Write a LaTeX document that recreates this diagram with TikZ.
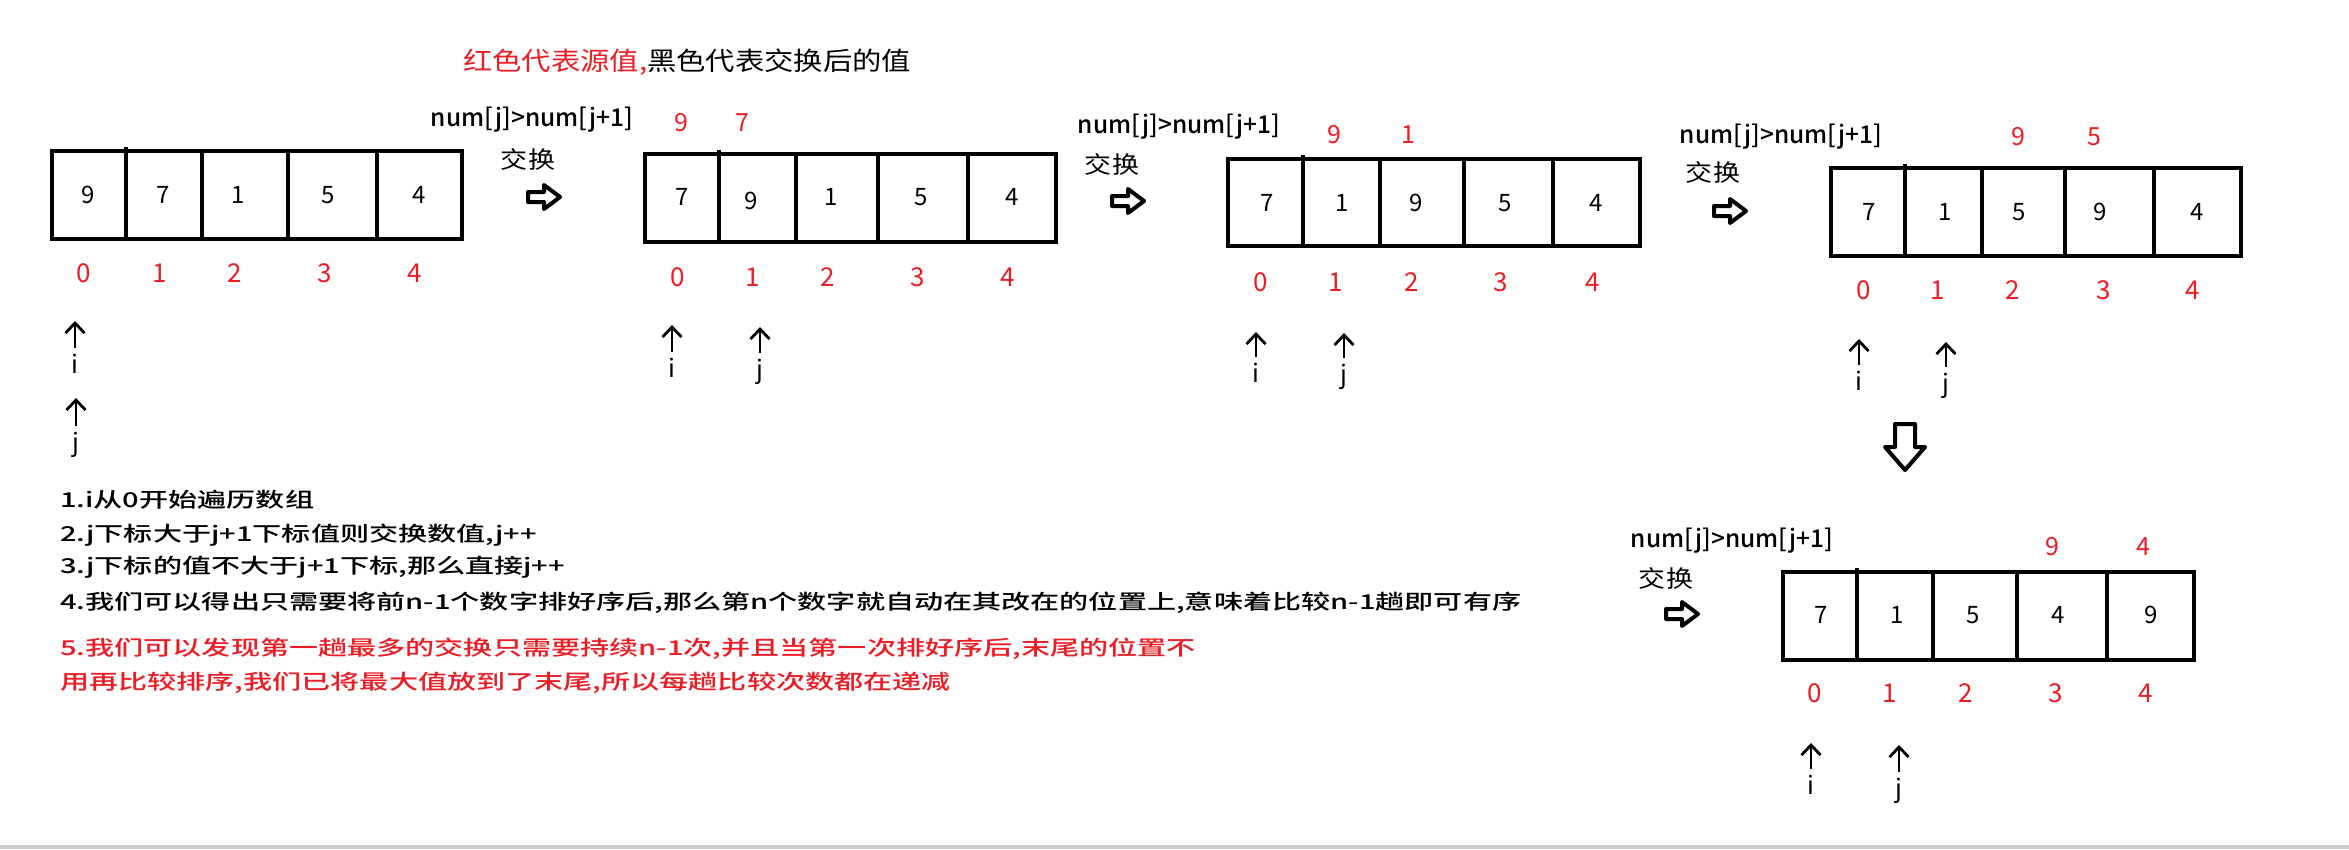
\documentclass[tikz,border=0pt]{standalone}
\usepackage{fontspec}
\usetikzlibrary{arrows.meta}
\newfontfamily\cjk[FakeStretch=1.42, UprightFont=* Medium]{Noto Sans CJK SC}
\newfontfamily\cjkm[UprightFont=* Medium]{Noto Sans CJK SC}
\newfontfamily\cjkt[FakeStretch=1.15]{Noto Sans CJK SC}
\newfontfamily\dgt{Noto Sans CJK SC}
\definecolor{srcred}{RGB}{236,28,36}

\begin{document}
\begin{tikzpicture}[x=1pt, y=-1pt,
  val/.style={inner sep=0pt, font=\dgt\fontsize{24}{24}\selectfont},
  idx/.style={inner sep=0pt, text=srcred, font=\dgt\fontsize{26}{26}\selectfont},
  src/.style={inner sep=0pt, text=srcred, font=\dgt\fontsize{25}{25}\selectfont}]
\tikzstyle{arr}=[draw, line width=4.5pt]
\tikzstyle{sep}=[draw, line width=4pt]
\tikzstyle{ptr}=[line width=2.8pt, -{Straight Barb[length=10pt,width=19pt]}, shorten <=6pt]
\tikzstyle{ptrlbl}=[inner sep=0pt, anchor=north, font=\dgt\fontsize{25}{25}\selectfont]
\tikzstyle{cond}=[inner sep=0pt, font=\cjkm\fontsize{24.5}{24.5}\selectfont]
\tikzstyle{swp}=[inner sep=0pt, font=\cjkt\fontsize{23.5}{23.5}\selectfont]
\tikzstyle{blk}=[line width=4pt, line join=round]
\tikzstyle{note}=[inner sep=0pt, anchor=west, font=\cjk\fontsize{20.5}{20.5}\selectfont]
\useasboundingbox (0,0) rectangle (2349,849);
\fill[black!20] (0,845) rectangle (2349,849);

\node[inner sep=0pt, anchor=west, font=\cjkt\fontsize{25.5}{25.5}\selectfont] (title) at (463,62)
  {{\color{srcred}红色代表源值,}黑色代表交换后的值};

% array 1
\draw[arr] (52,151) rectangle (462,239);
\draw[sep] (126,147) -- (126,239);
\foreach \x in {202,288,377}{\draw[sep] (\x,151) -- (\x,239);}
\foreach \x/\v [count=\n from 0] in {88/9,163/7,238/1,328/5,419/4}{\node[val] (a\n) at (\x,195) {\v};}
\foreach \x [count=\n from 0] in {84,160,235,325,415}{\node[idx] (ia\n) at (\x,273) {\n};}

% array 2
\draw[arr] (645,154) rectangle (1056,242);
\draw[sep] (719,150) -- (719,242);
\foreach \x in {796,878,968}{\draw[sep] (\x,154) -- (\x,242);}
\foreach \x/\y/\v [count=\n from 0] in {682/197/7,751/201/9,831/197/1,921/197/5,1012/197/4}{\node[val] (b\n) at (\x,\y) {\v};}
\foreach \x [count=\n from 0] in {678,753,828,918,1008}{\node[idx] (ib\n) at (\x,277) {\n};}
\node[src] (sb0) at (681,123) {9};
\node[src] (sb1) at (742,123) {7};

% array 3
\draw[arr] (1228,159) rectangle (1640,246);
\draw[sep] (1303,155) -- (1303,246);
\foreach \x in {1380,1464,1553}{\draw[sep] (\x,159) -- (\x,246);}
\foreach \x/\v [count=\n from 0] in {1267/7,1342/1,1416/9,1505/5,1596/4}{\node[val] (c\n) at (\x,203) {\v};}
\foreach \x [count=\n from 0] in {1261,1336,1412,1501,1593}{\node[idx] (ic\n) at (\x,282) {\n};}
\node[src] (sc0) at (1334,135) {9};
\node[src] (sc1) at (1408,135) {1};

% array 4
\draw[arr] (1831,168) rectangle (2241,256);
\draw[sep] (1905,164) -- (1905,256);
\foreach \x in {1982,2065,2154}{\draw[sep] (\x,168) -- (\x,256);}
\foreach \x/\v [count=\n from 0] in {1869/7,1945/1,2019/5,2100/9,2197/4}{\node[val] (d\n) at (\x,212) {\v};}
\foreach \x [count=\n from 0] in {1864,1938,2013,2104,2193}{\node[idx] (id\n) at (\x,290) {\n};}
\node[src] (sd0) at (2018,137) {9};
\node[src] (sd1) at (2094,137) {5};

% array 5
\draw[arr] (1783,572) rectangle (2194,660);
\draw[sep] (1857,568) -- (1857,660);
\foreach \x in {1933,2017,2107}{\draw[sep] (\x,572) -- (\x,660);}
\foreach \x/\v [count=\n from 0] in {1821/7,1897/1,1973/5,2058/4,2151/9}{\node[val] (e\n) at (\x,615) {\v};}
\foreach \x [count=\n from 0] in {1815,1890,1966,2056,2146}{\node[idx] (ie\n) at (\x,693) {\n};}
\node[src] (se0) at (2052,547) {9};
\node[src] (se1) at (2143,547) {4};

% swap labels and arrows
\foreach \nm/\x/\y/\sx/\sy/\ax/\ay in {b/532/120/528/159/544/197, c/1179/127/1112/164/1128/201,
    d/1781/137/1713/172/1730/211, e/1732/541/1666/578/1682/614}{
  \node[cond] (\nm-cond) at (\x,\y) {num[j]>num[j+1]};
  \node[swp] (\nm-swp) at (\sx,\sy) {交换};
  \draw[blk, shift={(\ax,\ay)}] (-16,-5) -- (0,-5) -- (0,-12) -- (16,0) -- (0,12) -- (0,5) -- (-16,5) -- cycle;
}
\draw[blk, shift={(1905,422)}] (-10,2) -- (10,2) -- (10,25) -- (20,25) -- (0,48) -- (-20,25) -- (-10,25) -- cycle;

% pointers
\foreach \nm/\t/\x/\tip/\top in {ai/i/75/321/354, aj/j/76/398/432, bi/i/672/325/358, bj/j/760/327/359,
    ci/i/1256/332/363, cj/j/1344/333/364, di/i/1859/339/371, dj/j/1946/342/373,
    ei/i/1811/743/775, ej/j/1899/745/778}{
  \node[ptrlbl] (\nm) at (\x,\top) {\t};
  \coordinate (\nm-tip) at (\x,\tip);
  \draw[ptr] (\nm) -- (\nm-tip);
}

% notes
\node[note] (n1) at (60,500) {1.i从0开始遍历数组};
\node[note] (n2) at (60,535) {2.j下标大于j+1下标值则交换数值,j++};
\node[note] (n3) at (60,567) {3.j下标的值不大于j+1下标,那么直接j++};
\node[note] (n4) at (60,603) {4.我们可以得出只需要将前n-1个数字排好序后,那么第n个数字就自动在其改在的位置上,意味着比较n-1趟即可有序};
\node[note, text=srcred] (n5) at (60,649) {5.我们可以发现第一趟最多的交换只需要持续n-1次,并且当第一次排好序后,末尾的位置不};
\node[note, text=srcred] (n6) at (60,683) {用再比较排序,我们已将最大值放到了末尾,所以每趟比较次数都在递减};
\end{tikzpicture}
\end{document}
